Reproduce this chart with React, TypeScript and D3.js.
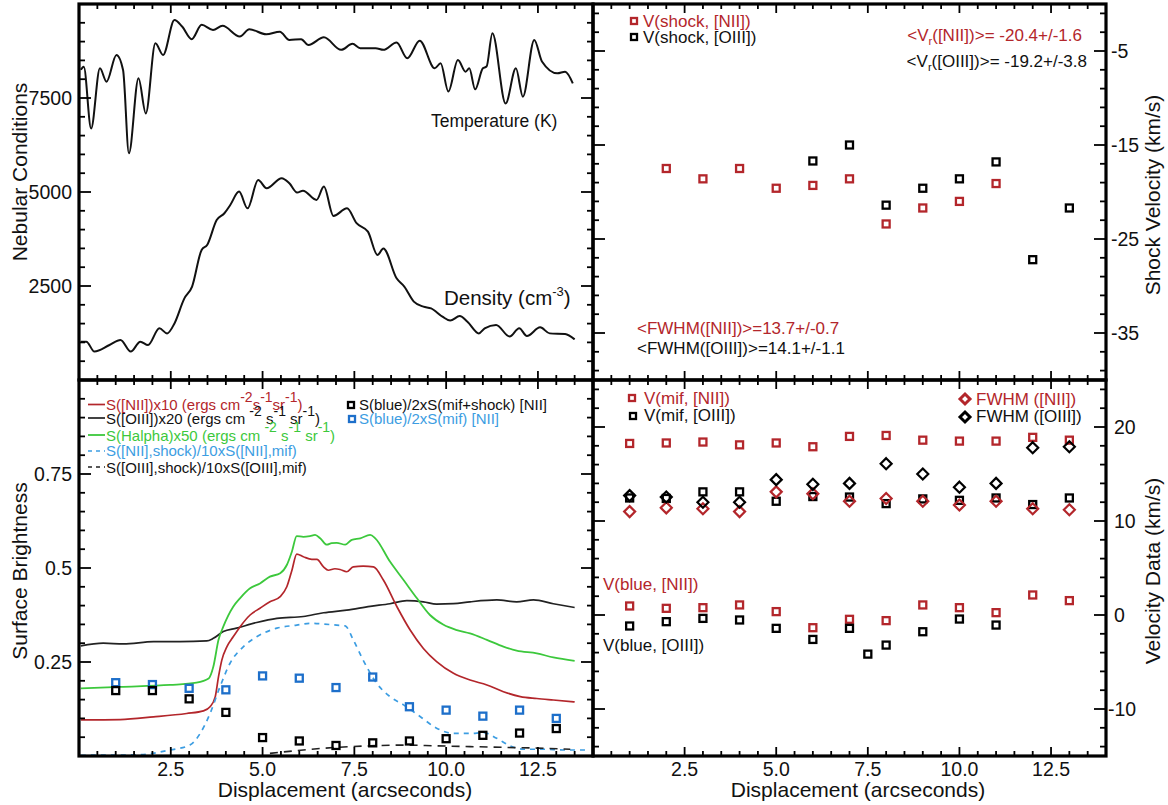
import React from "react";
import * as d3 from "d3";

const FONT = "'Liberation Sans', Arial, Helvetica, sans-serif";
const RED = "#b3262b";
const GREEN = "#3cc83c";
const BLUE = "#1d6fca";
const LIGHTBLUE = "#3c9de2";

// slit positions (arcsec) of the sampled points
const slitPos = [1, 2, 3, 4, 5, 6, 7, 8, 9, 10, 11, 12, 13];
const xTickLabels = ["2.5", "5.0", "7.5", "10.0", "12.5"];
const xTickValues = [2.5, 5, 7.5, 10, 12.5];

// top left: [displacement, value]
const temperature: [number, number][] = [
  [0.05, 8250], [0.13, 8330], [0.33, 6690], [0.57, 8290], [0.75, 7935], [1.02, 8645],
  [1.2, 8245], [1.36, 6030], [1.62, 8025], [1.82, 7090], [2.08, 8955], [2.29, 8645],
  [2.6, 9575], [2.81, 9400], [3.07, 9065], [3.34, 9445], [3.65, 9310], [3.91, 9420],
  [4.38, 9135], [4.64, 9330], [5.1, 9195], [5.47, 9265], [5.73, 9045], [6.05, 9065],
  [6.25, 8910], [6.67, 9115], [7.14, 8780], [7.45, 8940], [7.66, 8825], [8.08, 8825],
  [8.29, 8780], [8.65, 8975], [8.94, 8555], [9.28, 9025], [9.69, 8290], [9.85, 8425],
  [10.06, 7670], [10.32, 8510], [10.53, 8200], [10.63, 8290], [10.79, 7730], [11.0, 8290],
  [11.1, 8335], [11.26, 9220], [11.62, 7355], [11.9, 8290], [12.09, 7535], [12.4, 9045],
  [12.61, 8470], [13.03, 8155], [13.24, 8200], [13.45, 7890],
];
const density: [number, number][] = [
  [0.05, 1020], [0.2, 1020], [0.42, 755], [0.83, 930], [1.13, 1065], [1.41, 755],
  [1.67, 1020], [1.88, 930], [2.19, 1375], [2.4, 1240], [2.6, 1505], [2.87, 2170],
  [3.08, 2485], [3.34, 3460], [3.49, 3590], [3.75, 4255], [3.96, 4435], [4.12, 4655],
  [4.36, 5010], [4.59, 4565], [4.88, 5320], [5.11, 5100], [5.52, 5365], [5.73, 5230],
  [5.94, 4985], [6.1, 5035], [6.47, 4790], [6.67, 5145], [6.93, 4365], [7.3, 4565],
  [7.56, 4170], [7.87, 3945], [8.13, 3325], [8.29, 3500], [8.65, 2705], [8.86, 2485],
  [9.12, 2085], [9.38, 1950], [9.59, 1905], [9.9, 1685], [10.11, 1580], [10.37, 1700],
  [10.58, 1550], [10.89, 1240], [11.05, 1375], [11.36, 1465], [11.73, 1155], [11.99, 1375],
  [12.2, 1170], [12.56, 1400], [12.82, 1240], [13.24, 1225], [13.5, 1080],
];

// bottom left: surface brightness
const niiX10: [number, number][] = [
  [0.05, 0.096], [1.12, 0.097], [2.03, 0.104], [2.93, 0.113], [3.39, 0.12], [3.57, 0.131],
  [3.71, 0.157], [3.8, 0.211], [3.89, 0.255], [4.03, 0.291], [4.2, 0.317], [4.39, 0.344],
  [4.66, 0.375], [4.93, 0.393], [5.2, 0.41], [5.48, 0.424], [5.66, 0.45], [5.8, 0.494],
  [5.93, 0.537], [6.11, 0.53], [6.34, 0.523], [6.48, 0.523], [6.66, 0.503], [6.79, 0.494],
  [6.97, 0.498], [7.11, 0.496], [7.29, 0.49], [7.47, 0.503], [7.74, 0.505], [8.02, 0.503],
  [8.29, 0.468], [8.66, 0.397], [9.02, 0.335], [9.38, 0.286], [9.74, 0.251], [10.2, 0.22],
  [10.65, 0.202], [11.11, 0.189], [11.56, 0.171], [12.02, 0.158], [12.47, 0.153],
  [12.92, 0.149], [13.5, 0.144],
];
const oiiiX20: [number, number][] = [
  [0.05, 0.293], [0.66, 0.3], [1.21, 0.298], [2.03, 0.304], [2.75, 0.304], [3.48, 0.306],
  [3.66, 0.313], [3.93, 0.331], [4.29, 0.34], [4.84, 0.355], [5.39, 0.366], [6.11, 0.371],
  [6.66, 0.381], [7.29, 0.388], [7.93, 0.398], [8.47, 0.405], [8.93, 0.413], [9.38, 0.41],
  [9.74, 0.404], [10.2, 0.405], [10.65, 0.41], [11.38, 0.415], [11.92, 0.41], [12.38, 0.415],
  [12.92, 0.405], [13.5, 0.395],
];
const halphaX50: [number, number][] = [
  [0.05, 0.18], [1.12, 0.184], [2.48, 0.189], [3.2, 0.195], [3.53, 0.206], [3.66, 0.238],
  [3.8, 0.309], [3.93, 0.344], [4.2, 0.397], [4.39, 0.42], [4.66, 0.446], [4.93, 0.459],
  [5.2, 0.477], [5.48, 0.486], [5.66, 0.508], [5.8, 0.544], [5.93, 0.585], [6.11, 0.583],
  [6.29, 0.585], [6.43, 0.588], [6.57, 0.579], [6.75, 0.562], [6.88, 0.566], [7.02, 0.567],
  [7.25, 0.562], [7.43, 0.575], [7.66, 0.579], [7.93, 0.588], [8.07, 0.579], [8.47, 0.517],
  [8.84, 0.468], [9.2, 0.42], [9.56, 0.375], [9.93, 0.349], [10.29, 0.335], [10.65, 0.326],
  [11.11, 0.309], [11.56, 0.291], [11.92, 0.28], [12.47, 0.273], [12.92, 0.262], [13.5, 0.253],
];
const niiShockRatio: [number, number][] = [
  [0.05, 0.002], [1.57, 0.003], [2.48, 0.016], [3.02, 0.029], [3.3, 0.06], [3.57, 0.113],
  [3.84, 0.184], [4.11, 0.246], [4.48, 0.291], [4.84, 0.317], [5.39, 0.34], [5.93, 0.348],
  [6.29, 0.353], [6.66, 0.351], [7.02, 0.348], [7.25, 0.346], [7.47, 0.309], [7.74, 0.255],
  [8.11, 0.193], [8.47, 0.158], [8.84, 0.136], [9.29, 0.105], [9.74, 0.074], [10.2, 0.06],
  [10.65, 0.06], [11.02, 0.062], [11.38, 0.047], [11.74, 0.027], [12.11, 0.018],
  [12.65, 0.018], [13.2, 0.016], [13.9, 0.016],
];
const oiiiShockRatio: [number, number][] = [
  [5.2, 0.007], [6.11, 0.016], [7.02, 0.023], [7.93, 0.027], [8.84, 0.029], [9.74, 0.027],
  [10.65, 0.025], [11.56, 0.023], [12.47, 0.021], [13.38, 0.018],
];
const blueMifShock = [0.174, 0.174, 0.152, 0.116, 0.049, 0.04, 0.028, 0.035, 0.04, 0.046, 0.055, 0.061, 0.073];
const blueMif = [0.195, 0.19, 0.18, 0.176, 0.213, 0.207, 0.182, 0.21, 0.131, 0.122, 0.106, 0.122, 0.1];

// top right: shock velocities
const shockNiiPos = [2, 3, 4, 5, 6, 7, 8, 9, 10, 11];
const shockNii = [-17.5, -18.6, -17.5, -19.6, -19.3, -18.6, -23.4, -21.7, -21.0, -19.1];
const shockOiiiPos = [6, 7, 8, 9, 10, 11, 12, 13];
const shockOiii = [-16.7, -15.0, -21.4, -19.6, -18.6, -16.8, -27.2, -21.7];

// bottom right: velocity data
const vMifNii = [18.25, 18.3, 18.4, 18.1, 18.3, 17.9, 19.0, 19.1, 18.6, 18.5, 18.5, 18.9, 18.6];
const vMifOiii = [12.45, 12.4, 13.1, 13.1, 12.1, 12.6, 12.55, 11.85, 12.35, 12.2, 12.45, 11.75, 12.45];
const fwhmNii = [11.0, 11.4, 11.3, 11.0, 13.1, 12.9, 12.1, 12.4, 12.1, 11.7, 12.1, 11.3, 11.2];
const fwhmOiii = [12.7, 12.55, 12.0, 12.0, 14.4, 13.9, 14.0, 16.1, 15.0, 13.6, 14.0, 17.8, 17.9];
const vBlueNii = [0.96, 0.71, 0.78, 1.07, 0.36, -1.35, -0.46, -0.6, 1.07, 0.78, 0.25, 2.13, 1.53];
const vBlueOiiiPos = [1, 2, 3, 4, 5, 6, 7, 7.5, 8, 9, 10, 11];
const vBlueOiii = [-1.17, -0.71, -0.36, -0.53, -1.42, -2.6, -1.42, -4.16, -3.2, -1.78, -0.43, -1.07];

type Scale = d3.ScaleLinear<number, number>;
type Seg = { t: string; s?: "sup" | "sub" };

// text with super/subscripts, each piece in its own tspan
function Rich({ segs, size = 13, up = 9, down = 4 }: { segs: Seg[]; size?: number; up?: number; down?: number }) {
  let level = 0;
  return (
    <>
      {segs.map((seg, i) => {
        const target = seg.s === "sup" ? -up : seg.s === "sub" ? down : 0;
        const dy = target - level;
        level = target;
        return (
          <tspan key={i} dy={dy} fontSize={seg.s ? size : undefined}>
            {seg.t}
          </tspan>
        );
      })}
    </>
  );
}

function Square({ cx, cy, color, size = 7 }: { cx: number; cy: number; color: string; size?: number }) {
  return <rect x={cx - size / 2} y={cy - size / 2} width={size} height={size} fill="none" stroke={color} strokeWidth={2.3} />;
}

function Diamond({ cx, cy, color, r = 5.5, sw = 2.2 }: { cx: number; cy: number; color: string; r?: number; sw?: number }) {
  return <path d={`M${cx},${cy - r}L${cx + r},${cy}L${cx},${cy + r}L${cx - r},${cy}Z`} fill="none" stroke={color} strokeWidth={sw} />;
}

function Frame({ xs, ys, yTicks, yMajors }: { xs: Scale; ys: Scale; yTicks: number[]; yMajors: number[] }) {
  const [l, r] = xs.range();
  const [b, t] = ys.range();
  const xTicks = d3.range(0.5, 14, 0.5);
  return (
    <g stroke="#000" strokeWidth={1.8}>
      {xTicks.map(v => {
        const major = xTickValues.includes(v);
        const len = major ? 9 : 5;
        const x = xs(v);
        return (
          <g key={"x" + v}>
            <line x1={x} x2={x} y1={b} y2={b - len} />
            <line x1={x} x2={x} y1={t} y2={t + len} />
          </g>
        );
      })}
      {yTicks.map(v => {
        const major = yMajors.some(m => Math.abs(m - v) < 1e-6);
        const len = major ? 12 : 6;
        const y = ys(v);
        return (
          <g key={"y" + v}>
            <line x1={l} x2={l + len} y1={y} y2={y} />
            <line x1={r} x2={r - len} y1={y} y2={y} />
          </g>
        );
      })}
      <rect x={l} y={t} width={r - l} height={b - t} fill="none" strokeWidth={3.2} />
    </g>
  );
}

export default function App() {
  const xL = d3.scaleLinear().domain([0, 14]).range([79, 593]);
  const xR = d3.scaleLinear().domain([0, 14]).range([593, 1106]);
  const yNeb = d3.scaleLinear().domain([0, 10000]).range([380, 4]);
  const yShock = d3.scaleLinear().domain([-40, 0]).range([380, 4]);
  const ySurf = d3.scaleLinear().domain([0, 1]).range([756, 380]);
  const yVel = d3.scaleLinear().domain([-15, 25]).range([756, 380]);

  const path = (xs: Scale, ys: Scale, data: [number, number][]) =>
    d3.line<[number, number]>().x(d => xs(d[0])).y(d => ys(d[1])).curve(d3.curveMonotoneX)(data) || "";

  return (
    <svg width={1168} height={805} style={{ position: "absolute", left: 0, top: 0, background: "#fff" }} fontFamily={FONT}>
      <rect width={1168} height={805} fill="#fff" />

      {/* top left: nebular conditions */}
      <path d={path(xL, yNeb, temperature)} fill="none" stroke="#111" strokeWidth={2} />
      <path d={path(xL, yNeb, density)} fill="none" stroke="#111" strokeWidth={2} />
      <text x={431} y={127} fontSize={17.5} fill="#111">Temperature (K)</text>
      <text x={444} y={305} fontSize={20.5} fill="#111">
        <Rich segs={[{ t: "Density (cm" }, { t: "-3", s: "sup" }, { t: ")" }]} size={13} up={9} />
      </text>

      {/* bottom left: surface brightness */}
      <path d={path(xL, ySurf, oiiiX20)} fill="none" stroke="#222" strokeWidth={1.7} />
      <path d={path(xL, ySurf, halphaX50)} fill="none" stroke={GREEN} strokeWidth={1.8} />
      <path d={path(xL, ySurf, niiX10)} fill="none" stroke={RED} strokeWidth={1.7} />
      <path d={path(xL, ySurf, niiShockRatio)} fill="none" stroke={LIGHTBLUE} strokeWidth={1.7} strokeDasharray="5,5" />
      <path d={path(xL, ySurf, oiiiShockRatio)} fill="none" stroke="#222" strokeWidth={1.6} strokeDasharray="8,6" />
      {slitPos.map((p, i) => <Square key={"bm" + i} cx={xL(p)} cy={ySurf(blueMif[i])} color={BLUE} />)}
      {slitPos.map((p, i) => <Square key={"bs" + i} cx={xL(p)} cy={ySurf(blueMifShock[i])} color="#000" />)}

      {/* top right: shock velocity */}
      {shockNiiPos.map((p, i) => <Square key={"sn" + i} cx={xR(p)} cy={yShock(shockNii[i])} color={RED} />)}
      {shockOiiiPos.map((p, i) => <Square key={"so" + i} cx={xR(p)} cy={yShock(shockOiii[i])} color="#000" />)}

      {/* bottom right: velocity data */}
      {slitPos.map((p, i) => <Square key={"mn" + i} cx={xR(p)} cy={yVel(vMifNii[i])} color={RED} />)}
      {slitPos.map((p, i) => <Square key={"mo" + i} cx={xR(p)} cy={yVel(vMifOiii[i])} color="#000" />)}
      {slitPos.map((p, i) => <Diamond key={"fn" + i} cx={xR(p)} cy={yVel(fwhmNii[i])} color={RED} />)}
      {slitPos.map((p, i) => <Diamond key={"fo" + i} cx={xR(p)} cy={yVel(fwhmOiii[i])} color="#000" />)}
      {slitPos.map((p, i) => <Square key={"vbn" + i} cx={xR(p)} cy={yVel(vBlueNii[i])} color={RED} />)}
      {vBlueOiiiPos.map((p, i) => <Square key={"vbo" + i} cx={xR(p)} cy={yVel(vBlueOiii[i])} color="#000" />)}

      {/* frames */}
      <Frame xs={xL} ys={yNeb} yTicks={d3.range(500, 10000, 500)} yMajors={[2500, 5000, 7500]} />
      <Frame xs={xL} ys={ySurf} yTicks={d3.range(1, 20).map(k => k * 0.05)} yMajors={[0.25, 0.5, 0.75]} />
      <Frame xs={xR} ys={yShock} yTicks={d3.range(-39, 0, 2)} yMajors={[-35, -25, -15, -5]} />
      <Frame xs={xR} ys={yVel} yTicks={d3.range(-14, 25, 2)} yMajors={[-10, 0, 10, 20]} />

      {/* tick labels */}
      <g fontSize={19.5} fill="#111">
        {[2500, 5000, 7500].map(v => (
          <text key={"nl" + v} x={72} y={yNeb(v) + 7} textAnchor="end">{v}</text>
        ))}
        {[0.25, 0.5, 0.75].map(v => (
          <text key={"sl" + v} x={72} y={ySurf(v) + 7} textAnchor="end">{String(v)}</text>
        ))}
        {[-5, -15, -25, -35].map(v => (
          <text key={"shl" + v} x={1111} y={yShock(v) + 7}>{v}</text>
        ))}
        {[20, 10, 0, -10].map(v => (
          <text key={"vl" + v} x={v < 0 ? 1108 : 1114} y={yVel(v) + 7}>{v}</text>
        ))}
        {xTickValues.map((v, i) => (
          <text key={"xl" + v} x={xL(v)} y={776} textAnchor="middle">{xTickLabels[i]}</text>
        ))}
        {xTickValues.map((v, i) => (
          <text key={"xr" + v} x={xR(v)} y={776} textAnchor="middle">{xTickLabels[i]}</text>
        ))}
      </g>

      {/* axis titles */}
      <g fontSize={21} fill="#111">
        <text transform="translate(27,172) rotate(-90)" textAnchor="middle">Nebular Conditions</text>
        <text transform="translate(27,571) rotate(-90)" textAnchor="middle">Surface Brightness</text>
        <text transform="translate(1160,195) rotate(-90)" textAnchor="middle">Shock Velocity (km/s)</text>
        <text transform="translate(1160,571) rotate(-90)" textAnchor="middle">Velocity Data (km/s)</text>
        <text x={345} y={797} textAnchor="middle">Displacement (arcseconds)</text>
        <text x={858} y={797} textAnchor="middle">Displacement (arcseconds)</text>
      </g>

      {/* bottom left legend */}
      <g fontSize={15}>
        <line x1={88} x2={105} y1={404.5} y2={404.5} stroke={RED} strokeWidth={1.7} />
        <text x={106} y={410} fill={RED}>
          <Rich
            segs={[
              { t: "S([NII])x10 (ergs cm" }, { t: "-2", s: "sup" }, { t: "s" },
              { t: "-1", s: "sup" }, { t: "sr" }, { t: "-1", s: "sup" }, { t: ")" },
            ]}
            size={14}
            up={8}
          />
        </text>
        <line x1={88} x2={105} y1={418} y2={418} stroke="#222" strokeWidth={1.7} />
        <text x={106} y={424} fill="#111">
          <Rich
            segs={[
              { t: "S([OIII])x20 (ergs cm " }, { t: "-2", s: "sup" }, { t: " s" },
              { t: "-1", s: "sup" }, { t: " sr" }, { t: "-1", s: "sup" }, { t: ")" },
            ]}
            size={14}
            up={8}
          />
        </text>
        <line x1={88} x2={105} y1={435} y2={435} stroke={GREEN} strokeWidth={1.8} />
        <text x={106} y={441} fill={GREEN}>
          <Rich
            segs={[
              { t: "S(Halpha)x50 (ergs cm " }, { t: "-2", s: "sup" }, { t: " s" },
              { t: "-1", s: "sup" }, { t: " sr" }, { t: "-1", s: "sup" }, { t: ")" },
            ]}
            size={14}
            up={9}
          />
        </text>
        <line x1={88} x2={105} y1={451} y2={451} stroke={LIGHTBLUE} strokeWidth={1.7} strokeDasharray="4,4" />
        <text x={106} y={456} fill={LIGHTBLUE}>S([NII],shock)/10xS([NII],mif)</text>
        <line x1={88} x2={105} y1={467} y2={467} stroke="#222" strokeWidth={1.6} strokeDasharray="4,4" />
        <text x={106} y={473} fill="#111">S([OIII],shock)/10xS([OIII],mif)</text>

        <Square cx={351} cy={405} color="#000" size={6} />
        <text x={359} y={410} fill="#111">S(blue)/2xS(mif+shock) [NII]</text>
        <Square cx={352} cy={419} color={BLUE} size={6} />
        <text x={359} y={424} fill={LIGHTBLUE}>S(blue)/2xS(mif) [NII]</text>
      </g>

      {/* top right legend and averages */}
      <g fontSize={17}>
        <Square cx={634} cy={21} color={RED} size={6} />
        <text x={643} y={27} fill={RED}>V(shock, [NII])</text>
        <Square cx={634} cy={37} color="#000" size={6} />
        <text x={643} y={43} fill="#111">V(shock, [OIII])</text>
        <text x={1082} y={41} textAnchor="end" fill={RED}>
          <Rich segs={[{ t: "<V" }, { t: "r", s: "sub" }, { t: "([NII])>= -20.4+/-1.6" }]} size={11} down={4} />
        </text>
        <text x={1087} y={67} textAnchor="end" fill="#111">
          <Rich segs={[{ t: "<V" }, { t: "r", s: "sub" }, { t: "([OIII])>= -19.2+/-3.8" }]} size={11} down={4} />
        </text>
        <text x={637} y={334} fill={RED}>&lt;FWHM([NII])&gt;=13.7+/-0.7</text>
        <text x={637} y={354} fill="#111">&lt;FWHM([OIII])&gt;=14.1+/-1.1</text>
      </g>

      {/* bottom right legend */}
      <g fontSize={17}>
        <Square cx={632} cy={398} color={RED} size={6} />
        <text x={644} y={404} fill={RED}>V(mif, [NII])</text>
        <Square cx={633} cy={416} color="#000" size={6} />
        <text x={644} y={421} fill="#111">V(mif, [OIII])</text>
        <Diamond cx={965} cy={399} color={RED} r={5} sw={3} />
        <text x={976} y={405} fill={RED}>FWHM ([NII])</text>
        <Diamond cx={965} cy={417} color="#000" r={5} sw={3} />
        <text x={976} y={422} fill="#111">FWHM ([OIII])</text>
        <text x={603} y={590} fill={RED}>V(blue, [NII])</text>
        <text x={603} y={651} fill="#111">V(blue, [OIII])</text>
      </g>
    </svg>
  );
}
